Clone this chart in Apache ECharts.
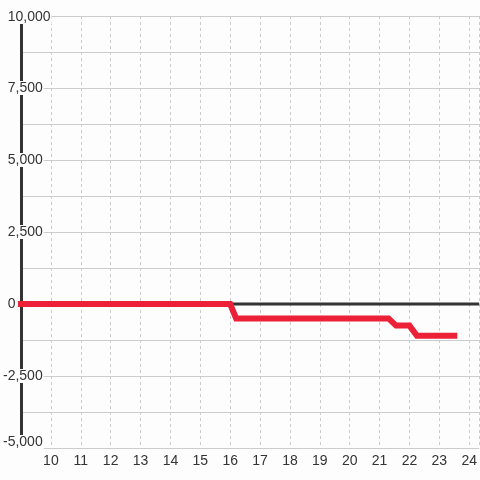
<!DOCTYPE html>
<html>
<head>
<meta charset="utf-8">
<script src="https://cdn.jsdelivr.net/npm/echarts@6/dist/echarts.min.js"></script>
<style>
  html, body { margin: 0; padding: 0; background: #fdfdfd; }
  #chart { width: 480px; height: 480px; }
</style>
</head>
<body>
<div id="chart"></div>
<script>
// step line values
const stepX = [9, 16, 16.2, 21.3, 21.55, 22, 22.25, 23.5];
const stepY = [0, 0, -500, -500, -750, -750, -1100, -1100];
// zero baseline
const zeroX = [9, 24.3333];
const zeroY = [0, 0];
// axis ranges
const xRange = [9, 24.3333];
const yRange = [-5000, 10000];

const BG = '#fdfdfd';
const FONT = 'Liberation Sans';

function pairs(xs, ys) {
  return xs.map((x, i) => [x, ys[i]]);
}

let labelBase = { color: '#333', fontSize: 14, fontFamily: FONT, backgroundColor: BG, lineHeight: 15 };

let myChart = echarts.init(document.getElementById('chart'));
myChart.setOption({
  backgroundColor: BG,
  animation: false,
  grid: { left: 20, right: 0, top: 16, bottom: 32 },
  xAxis: {
    type: 'value',
    min: xRange[0],
    max: xRange[1],
    interval: 1,
    axisLine: { show: false },
    axisTick: { show: false },
    axisLabel: {
      showMinLabel: false,
      showMaxLabel: false,
      margin: 6,
      color: '#333',
      fontSize: 14,
      fontFamily: FONT
    },
    splitLine: { show: true, lineStyle: { color: '#ccc', width: 1, type: [3, 3] } }
  },
  yAxis: [
    {
      // grid lines only
      type: 'value',
      min: yRange[0],
      max: yRange[1],
      interval: 2500,
      z: 0,
      axisLine: { show: false },
      axisTick: { show: false },
      axisLabel: { show: false },
      minorTick: { show: false, splitNumber: 2 },
      splitLine: { show: true, lineStyle: { color: '#ccc', width: 1 } },
      minorSplitLine: { show: true, lineStyle: { color: '#ccc', width: 1 } }
    },
    {
      // axis line and labels drawn on top
      type: 'value',
      min: yRange[0],
      max: yRange[1],
      interval: 2500,
      position: 'left',
      z: 1,
      axisLine: { show: true, onZero: false, lineStyle: { color: '#333', width: 3 } },
      axisTick: { show: false },
      splitLine: { show: false },
      axisLabel: {
        margin: 18,
        align: 'left',
        verticalAlign: 'middle',
        color: '#333',
        fontSize: 14,
        fontFamily: FONT,
        formatter: function (v) {
          let s = Math.abs(v).toLocaleString('en-US');
          if (v === yRange[0]) return '{b|-' + s + '}';
          if (v === yRange[1]) return '{t|' + s + '}';
          return v < 0 ? '{n|-' + s + '}' : '{p|' + s + '}';
        },
        rich: {
          n: Object.assign({}, labelBase, { padding: [0, 1, 0, 0] }),
          p: Object.assign({}, labelBase, { padding: [0, 1, 0, 4.7] }),
          b: Object.assign({}, labelBase, { padding: [0, 1, 12, 0] }),
          t: Object.assign({}, labelBase, { padding: [2, 1, 0, 4.7] })
        }
      }
    }
  ],
  series: [
    {
      type: 'line',
      data: pairs(zeroX, zeroY),
      symbol: 'none',
      z: 1,
      silent: true,
      lineStyle: { color: '#333', width: 3 }
    },
    {
      type: 'line',
      data: pairs(stepX, stepY),
      symbol: 'none',
      z: 3,
      clip: false,
      lineStyle: { color: '#ec2036', width: 6, cap: 'square', join: 'miter' }
    }
  ]
});
</script>
</body>
</html>
